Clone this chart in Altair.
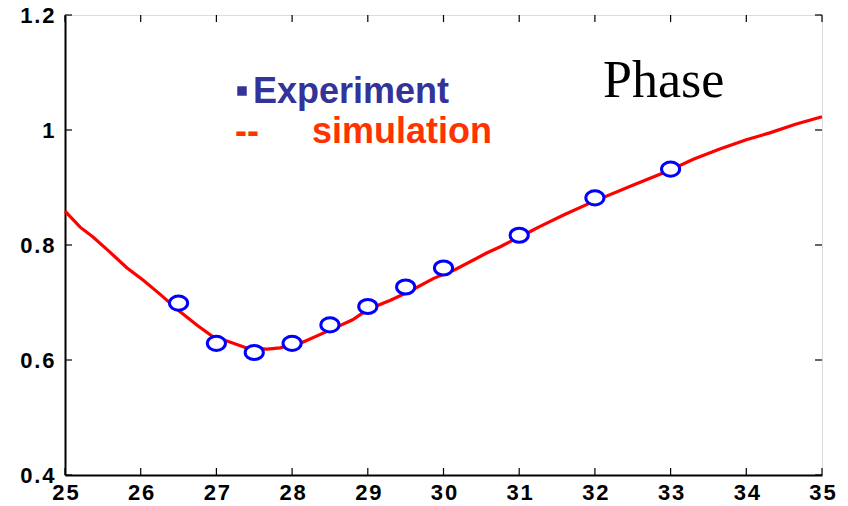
import altair as alt
import pandas as pd

# Simulated phase curve
sim_x = [25, 25.2, 25.37, 25.59, 25.82, 26.03, 26.25, 26.5, 26.75, 26.96, 27.14, 27.4,
         27.67, 27.84, 28.14, 28.5, 28.8, 29.0, 29.3, 29.56, 29.87, 30.15, 30.57, 30.75,
         30.88, 31.14, 31.27, 31.6, 31.97, 32.5, 32.99, 33.3, 33.65, 34.0, 34.31, 34.65, 35]
sim_y = [0.859, 0.831, 0.814, 0.788, 0.760, 0.739, 0.715, 0.686, 0.660, 0.640, 0.633, 0.621,
         0.619, 0.621, 0.631, 0.652, 0.670, 0.688, 0.704, 0.720, 0.742, 0.757, 0.786, 0.797,
         0.806, 0.823, 0.832, 0.853, 0.875, 0.904, 0.930, 0.949, 0.967, 0.983, 0.995, 1.010, 1.023]

# Measured phase
exp_x = [26.5, 27, 27.5, 28, 28.5, 29, 29.5, 30, 31, 32, 33]
exp_y = [0.699, 0.629, 0.613, 0.629, 0.661, 0.693, 0.727, 0.760, 0.817, 0.882, 0.932]

x_ticks = [25, 26, 27, 28, 29, 30, 31, 32, 33, 34, 35]
y_ticks = [0.4, 0.6, 0.8, 1.0, 1.2]

W, H = 757, 460
TICK = 7

sim = pd.DataFrame({"x": sim_x, "y": sim_y})
exp = pd.DataFrame({"x": exp_x, "y": exp_y})
xt = pd.DataFrame({"x": x_ticks})
yt = pd.DataFrame({"y": y_ticks})

# Slightly letter-spaced tick labels
spaced = "join(split(datum.label, ''), '\u200a')"

xscale = alt.Scale(domain=[25, 35], nice=False, zero=False)
yscale = alt.Scale(domain=[0.4, 1.2], nice=False, zero=False)

common_axis = dict(
    ticks=False, domain=True, domainColor="black", domainWidth=2, grid=False,
    title=None, format="~g", labelFont="Liberation Sans", labelFontWeight="bold",
    labelFontSize=22, labelColor="black", labelOverlap=False, labelBound=False,
    labelExpr=spaced,
)
xaxis = alt.Axis(values=x_ticks, labelPadding=7, labelFlush=False, **common_axis)
yaxis = alt.Axis(values=y_ticks, labelPadding=11, **common_axis)

line = alt.Chart(sim).mark_line(color="#ff0000", strokeWidth=3.2).encode(
    x=alt.X("x:Q", scale=xscale, axis=xaxis),
    y=alt.Y("y:Q", scale=yscale, axis=yaxis),
)

ellipse = "M -1 0 A 1 0.78 0 1 0 1 0 A 1 0.78 0 1 0 -1 0 Z"
points = alt.Chart(exp).mark_point(
    shape=ellipse, size=330, filled=True, fill="white", fillOpacity=1,
    stroke="#0000ff", strokeWidth=3, opacity=1,
).encode(x=alt.X("x:Q", scale=xscale), y=alt.Y("y:Q", scale=yscale))

# Inward tick marks on all four sides of the frame
tick_style = dict(color="black", strokeWidth=1.2)
bottom_ticks = alt.Chart(xt).mark_rule(**tick_style).encode(
    x=alt.X("x:Q", scale=xscale), y=alt.value(H), y2=alt.value(H - TICK))
top_ticks = alt.Chart(xt).mark_rule(**tick_style).encode(
    x=alt.X("x:Q", scale=xscale), y=alt.value(0), y2=alt.value(TICK))
left_ticks = alt.Chart(yt).mark_rule(**tick_style).encode(
    y=alt.Y("y:Q", scale=yscale), x=alt.value(0), x2=alt.value(TICK))
right_ticks = alt.Chart(yt).mark_rule(**tick_style).encode(
    y=alt.Y("y:Q", scale=yscale), x=alt.value(W), x2=alt.value(W - TICK))


def label(text, x, y, color, size, font="Liberation Sans", weight="bold"):
    return alt.Chart(pd.DataFrame({"t": [text]})).mark_text(
        align="left", baseline="alphabetic", font=font, fontWeight=weight,
        fontSize=size, color=color,
    ).encode(x=alt.value(x), y=alt.value(y), text="t:N")


legend_square = alt.Chart(pd.DataFrame({"t": ["Experiment"]})).mark_square(
    size=90, color="#333399", filled=True, opacity=1,
).encode(x=alt.value(177), y=alt.value(76))

texts = [
    label("Experiment", 188, 88, "#333399", 36),
    label("--", 170, 128, "#ff3300", 36),
    label("simulation", 247, 128, "#ff3300", 36),
    label("Phase", 538, 82, "black", 52, font="Liberation Serif", weight="normal"),
]

chart = alt.layer(
    line, points, bottom_ticks, top_ticks, left_ticks, right_ticks, legend_square, *texts
).properties(
    width=W, height=H, autosize="none",
    padding={"left": 65, "top": 15, "right": 26, "bottom": 31},
).configure_view(
    stroke="black", strokeWidth=2,
).configure(background="white")

chart.save("out.html", embed_options={"renderer": "svg", "actions": False})
